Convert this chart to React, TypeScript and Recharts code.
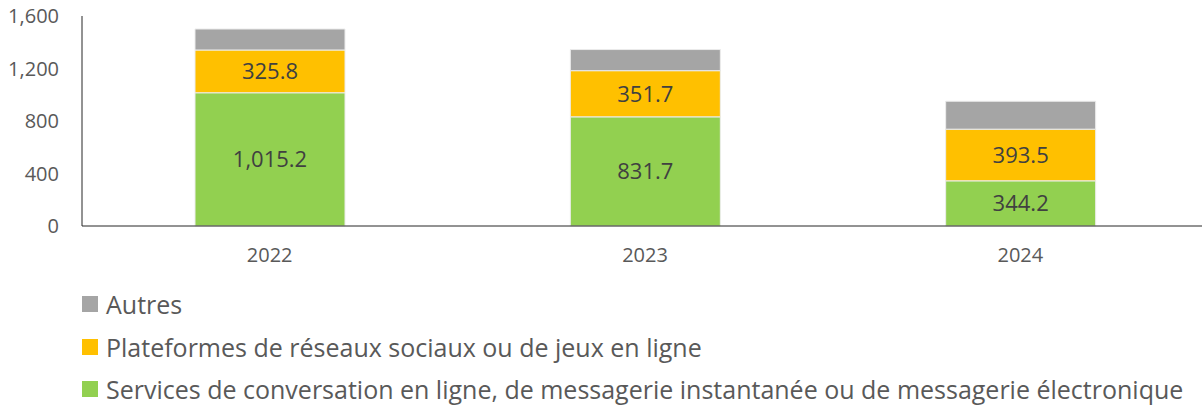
import { Bar, BarChart, LabelList, XAxis, YAxis } from "recharts";

const YEARS = ["2022", "2023", "2024"];
const SERVICES = [1015.2, 831.7, 344.2];
const PLATEFORMES = [325.8, 351.7, 393.5];
const AUTRES = [160, 161, 213];
const Y_TICKS = [0, 400, 800, 1200, 1600];

const SERIES = [
  { key: "services", label: "Services de conversation en ligne, de messagerie instantanée ou de messagerie électronique", color: "#92D050", labels: true },
  { key: "plateformes", label: "Plateformes de réseaux sociaux ou de jeux en ligne", color: "#FFC000", labels: true },
  { key: "autres", label: "Autres", color: "#A5A5A5", labels: false },
];

const data = YEARS.map((year, i) => ({
  year,
  services: SERVICES[i],
  plateformes: PLATEFORMES[i],
  autres: AUTRES[i],
}));

const FONT = "'Open Sans', 'DejaVu Sans', sans-serif";
const TEXT = "#595959";
const AXIS_LINE = "#262626";

const fmt1 = (v: number) =>
  v.toLocaleString("en-US", { minimumFractionDigits: 1, maximumFractionDigits: 1 });
const fmt0 = (v: number) => v.toLocaleString("en-US");

export default function App() {
  const legendItems = [...SERIES].reverse();
  return (
    <div
      style={{
        position: "absolute",
        left: 0,
        top: 0,
        width: 1202,
        height: 405,
        overflow: "hidden",
        background: "#fff",
        fontFamily: FONT,
      }}
    >
      <BarChart
        width={1208}
        height={405}
        data={data}
        barCategoryGap="30%"
        margin={{ top: 16, right: 0, left: 0, bottom: 149 }}
      >
        <XAxis
          dataKey="year"
          height={30}
          tickLine={false}
          tickSize={0}
          tickMargin={22}
          axisLine={{ stroke: AXIS_LINE, strokeWidth: 1 }}
          tick={{ fill: TEXT, fontSize: 20, fontFamily: FONT }}
        />
        <YAxis
          width={82}
          domain={[0, 1600]}
          ticks={Y_TICKS}
          interval={0}
          tickLine={false}
          tickSize={0}
          tickMargin={23}
          tickFormatter={fmt0}
          axisLine={{ stroke: AXIS_LINE, strokeWidth: 1 }}
          tick={{ fill: TEXT, fontSize: 20, fontFamily: FONT }}
        />
        {SERIES.map((s) => (
          <Bar
            key={s.key}
            dataKey={s.key}
            stackId="a"
            fill={s.color}
            stroke="#ececec"
            strokeWidth={1}
            barSize={150}
            isAnimationActive={false}
          >
            {s.labels && (
              <LabelList
                dataKey={s.key}
                position="center"
                formatter={(v: number) => fmt1(v)}
                style={{ fill: "#404040", fontSize: 22, fontFamily: FONT }}
              />
            )}
          </Bar>
        ))}
      </BarChart>
      <div style={{ position: "absolute", left: 82, top: 283 }}>
        {legendItems.map((s) => (
          <div
            key={s.key}
            style={{ display: "flex", alignItems: "center", height: 42.5, whiteSpace: "nowrap" }}
          >
            <span style={{ width: 16, height: 16, background: s.color, marginRight: 8, flex: "none" }} />
            <span style={{ color: TEXT, fontSize: 25, lineHeight: "24px" }}>{s.label}</span>
          </div>
        ))}
      </div>
    </div>
  );
}
